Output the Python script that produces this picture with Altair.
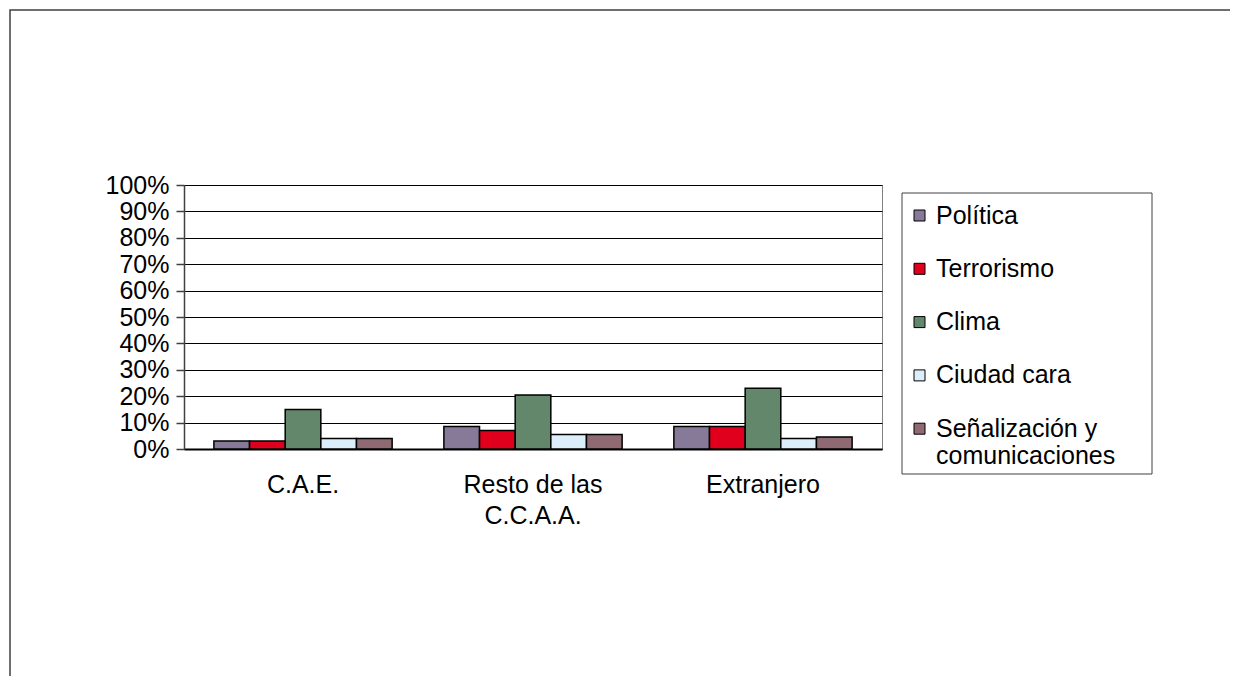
import altair as alt
import pandas as pd

groups = ["C.A.E.", "Resto de las C.C.A.A.", "Extranjero"]
series = ["Política", "Terrorismo", "Clima", "Ciudad cara", "Señalización y comunicaciones"]
politica = [3.0, 8.5, 8.5]
terrorismo = [3.0, 7.0, 8.5]
clima = [15.0, 20.5, 23.0]
ciudad_cara = [4.0, 5.5, 4.0]
senalizacion = [4.0, 5.5, 4.5]
colors = ["#877A99", "#E0001E", "#62876A", "#DDEEFB", "#8F6A72"]
y_ticks = [0, 0.1, 0.2, 0.3, 0.4, 0.5, 0.6, 0.7, 0.8, 0.9, 1.0]

rows = []
for s, vals in zip(series, [politica, terrorismo, clima, ciudad_cara, senalizacion]):
    for g, v in zip(groups, vals):
        rows.append({"grupo": g, "serie": s, "valor": v / 100.0})
df = pd.DataFrame(rows)

FONT = "Liberation Sans"
FS = 25

bars = alt.Chart(df).mark_bar(stroke="black", strokeWidth=1.5).encode(
    x=alt.X("grupo:N", sort=groups, title=None,
            scale=alt.Scale(paddingInner=0.225, paddingOuter=0.13),
            axis=alt.Axis(labelAngle=0, labelFontSize=FS, labelFont=FONT, labelColor="black",
                          ticks=False, labelPadding=23, labelLineHeight=31,
                          domainColor="black", domainWidth=2, labelLimit=400,
                          labelExpr="datum.label == 'Resto de las C.C.A.A.' ? ['Resto de las', 'C.C.A.A.'] : datum.label")),
    xOffset=alt.XOffset("serie:N", sort=series, scale=alt.Scale(paddingInner=0, paddingOuter=0)),
    y=alt.Y("valor:Q", title=None,
            scale=alt.Scale(domain=[0, 1], nice=False),
            axis=alt.Axis(values=y_ticks, format=".0%", labelFontSize=FS, labelFont=FONT,
                          labelColor="black", tickSize=8, tickColor="#404040", tickWidth=1.5,
                          domainColor="#404040", domainWidth=1.5, labelPadding=7,
                          grid=True, gridColor="black", gridWidth=1)),
    color=alt.Color("serie:N", sort=series, scale=alt.Scale(domain=series, range=colors),
                    legend=alt.Legend(title=None, orient="none", legendX=713, legendY=8,
                                      symbolType="square", symbolSize=121,
                                      symbolStrokeColor="black", symbolStrokeWidth=1,
                                      labelFontSize=FS, labelFont=FONT, labelColor="black",
                                      labelLimit=400, padding=10,
                                      rowPadding=27.3, labelOffset=4,
                                      labelExpr="datum.label == 'Señalización y comunicaciones' ? ['Señalización y', 'comunicaciones'] : datum.label")),
)

legend_box = alt.Chart(alt.Data(values=[{}])).mark_rect(fillOpacity=0, stroke="#404040", strokeWidth=1).encode(
    x=alt.value(718), x2=alt.value(968), y=alt.value(8), y2=alt.value(289)
)

frame = alt.Chart(alt.Data(values=[{}])).mark_rect(fillOpacity=0, stroke="#404040", strokeWidth=1.5).encode(
    x=alt.value(-174), x2=alt.value(1200), y=alt.value(-175), y2=alt.value(700)
)

chart = alt.layer(bars, legend_box, frame).properties(
    width=698, height=264,
    autosize=alt.AutoSizeParams(type="none"),
    padding={"left": 176, "top": 177, "right": 348, "bottom": 227},
    background="white",
).configure_view(stroke="#808080", strokeWidth=1)

chart.save("out.html", embed_options={"renderer": "svg", "actions": False})
